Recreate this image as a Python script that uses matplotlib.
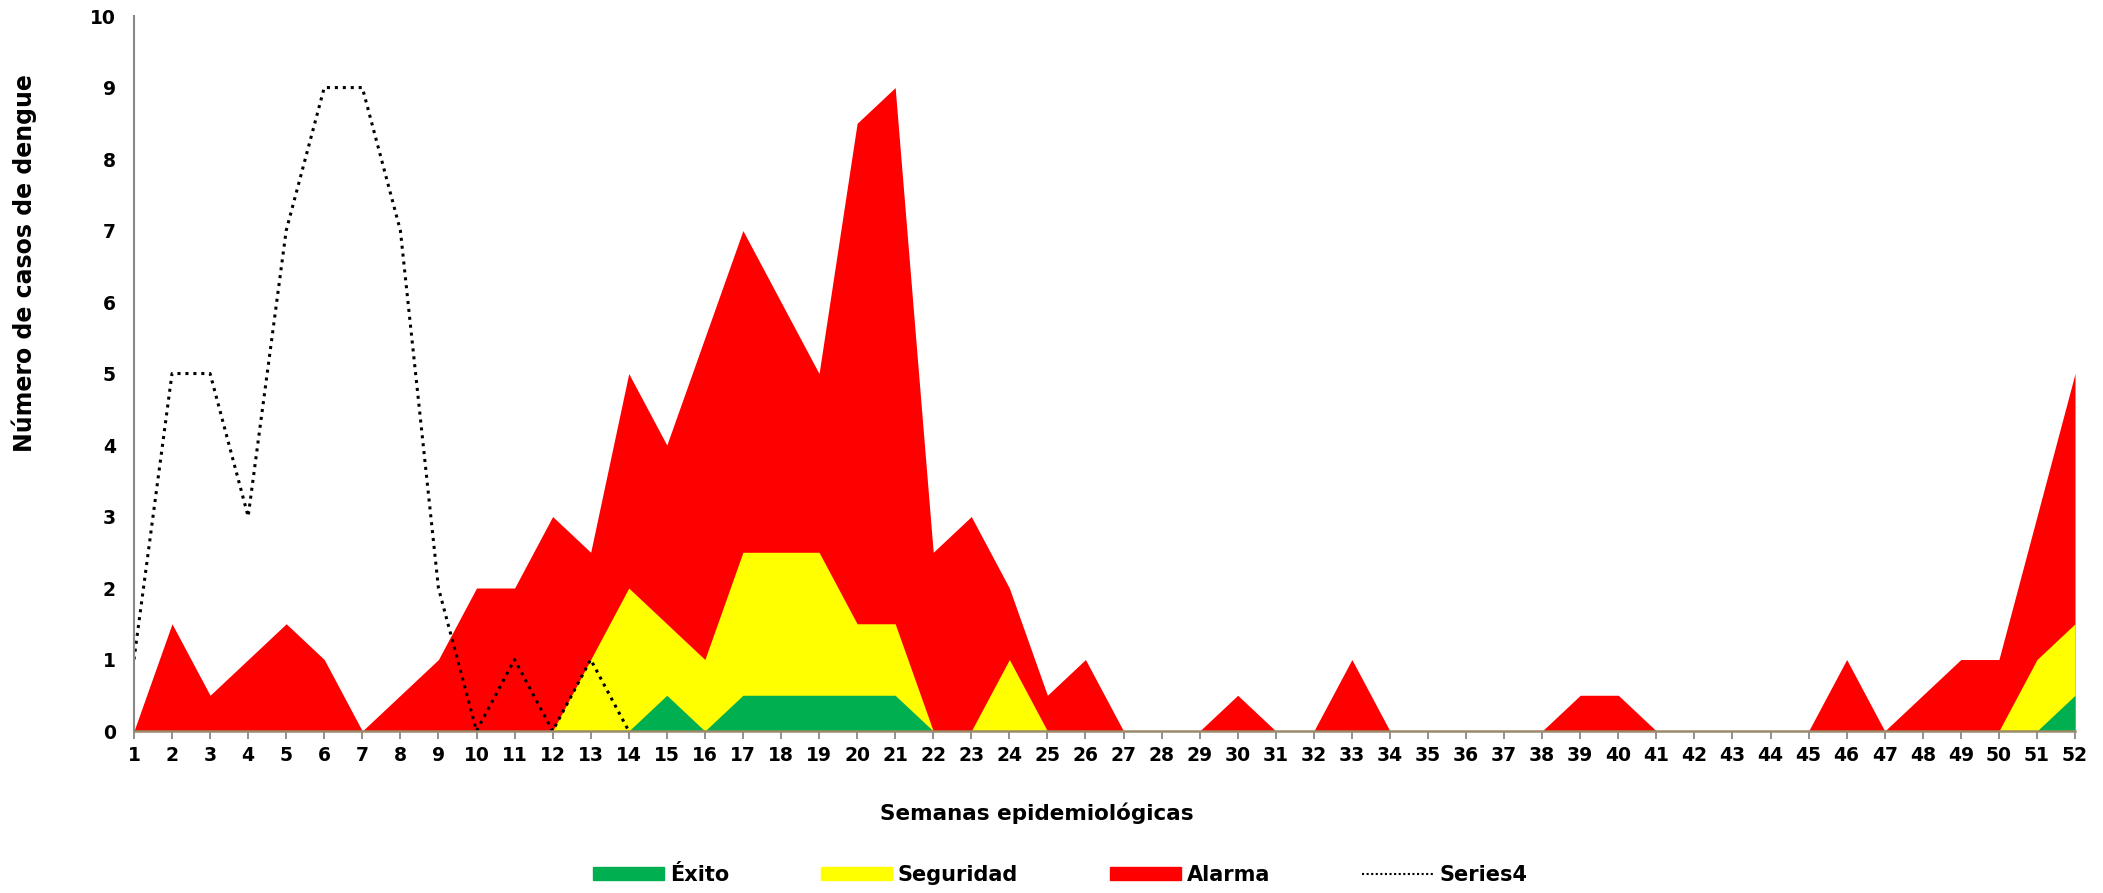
import numpy as np
import matplotlib
matplotlib.use("Agg")
from matplotlib import pyplot as plt
from matplotlib.patches import Patch
from matplotlib.lines import Line2D

plt.rcParams['font.family'] = ['DejaVu Sans']

semanas = np.arange(1, 53)

# canal endemico - limites superiores de cada zona
alarma = [0, 1.5, 0.5, 1, 1.5, 1, 0, 0.5, 1, 2,
          2, 3, 2.5, 5, 4, 5.5, 7, 6, 5, 8.5,
          9, 2.5, 3, 2, 0.5, 1, 0, 0, 0, 0.5,
          0, 0, 1, 0, 0, 0, 0, 0, 0.5, 0.5,
          0, 0, 0, 0, 0, 1, 0, 0.5, 1, 1,
          3, 5]
seguridad = [0, 0, 0, 0, 0, 0, 0, 0, 0, 0,
             0, 0, 1, 2, 1.5, 1, 2.5, 2.5, 2.5, 1.5,
             1.5, 0, 0, 1, 0, 0, 0, 0, 0, 0,
             0, 0, 0, 0, 0, 0, 0, 0, 0, 0,
             0, 0, 0, 0, 0, 0, 0, 0, 0, 0,
             1, 1.5]
exito = [0, 0, 0, 0, 0, 0, 0, 0, 0, 0,
         0, 0, 0, 0, 0.5, 0, 0.5, 0.5, 0.5, 0.5,
         0.5, 0, 0, 0, 0, 0, 0, 0, 0, 0,
         0, 0, 0, 0, 0, 0, 0, 0, 0, 0,
         0, 0, 0, 0, 0, 0, 0, 0, 0, 0,
         0, 0.5]
# casos del año actual (solo hasta la semana 14)
series4 = [1, 5, 5, 3, 7, 9, 9, 7, 2, 0, 1, 0, 1, 0]

c_verde = "#00B050"
c_amarillo = "#FFFF00"
c_rojo = "#FF0000"

fig = plt.figure(figsize=(21.03, 8.93), dpi=100)
ax = fig.add_axes([0.0637, 0.1814, 0.923, 0.8006])

ax.fill_between(semanas, 0, alarma, color=c_rojo, lw=0)
ax.fill_between(semanas, 0, seguridad, color=c_amarillo, lw=0)
ax.fill_between(semanas, 0, exito, color=c_verde, lw=0)
ax.plot(semanas[:len(series4)], series4, color="black", ls=(0, (1, 1.6)), lw=2.2)

ax.set_xlim(1, 52)
ax.set_ylim(0, 10)
ax.set_xticks(semanas)
ax.set_yticks(range(0, 11))
ax.tick_params(axis='x', length=6, width=1.3, color="#888888", labelsize=13.5, pad=5)
ax.tick_params(axis='y', length=0, labelsize=13.5, pad=13)
for lbl in ax.get_xticklabels() + ax.get_yticklabels():
    lbl.set_fontweight('bold')

for s in ['top', 'right']:
    ax.spines[s].set_visible(False)
ax.spines['left'].set_color("#888888")
ax.spines['bottom'].set_color("#9a8a6a")
ax.spines['left'].set_linewidth(1.5)
ax.spines['bottom'].set_linewidth(1.8)

ax.set_ylabel("Número de casos de dengue", fontsize=17, fontweight='bold')
ax.yaxis.set_label_coords(-0.0567, 0.655)
ax.yaxis.label.set_va('center')
ax.set_xlabel("Semanas epidemiológicas", fontsize=15.5, fontweight='bold')
ax.xaxis.set_label_coords(0.465, -0.1147)
ax.xaxis.label.set_va('center')

handles = [Patch(color=c_verde), Patch(color=c_amarillo), Patch(color=c_rojo),
           Line2D([0], [0], color="black", ls=(0, (1, 1.2)), lw=1.5)]
fig.legend(handles, ["Éxito", "Seguridad", "Alarma", "Series4"], ncol=4,
           loc='lower center', bbox_to_anchor=(0.504, -0.012), frameon=False,
           prop={'size': 15, 'weight': 'bold'}, handlelength=3.4, handleheight=0.6,
           columnspacing=4.4, handletextpad=0.3)

fig.savefig("out.png", dpi=100)
